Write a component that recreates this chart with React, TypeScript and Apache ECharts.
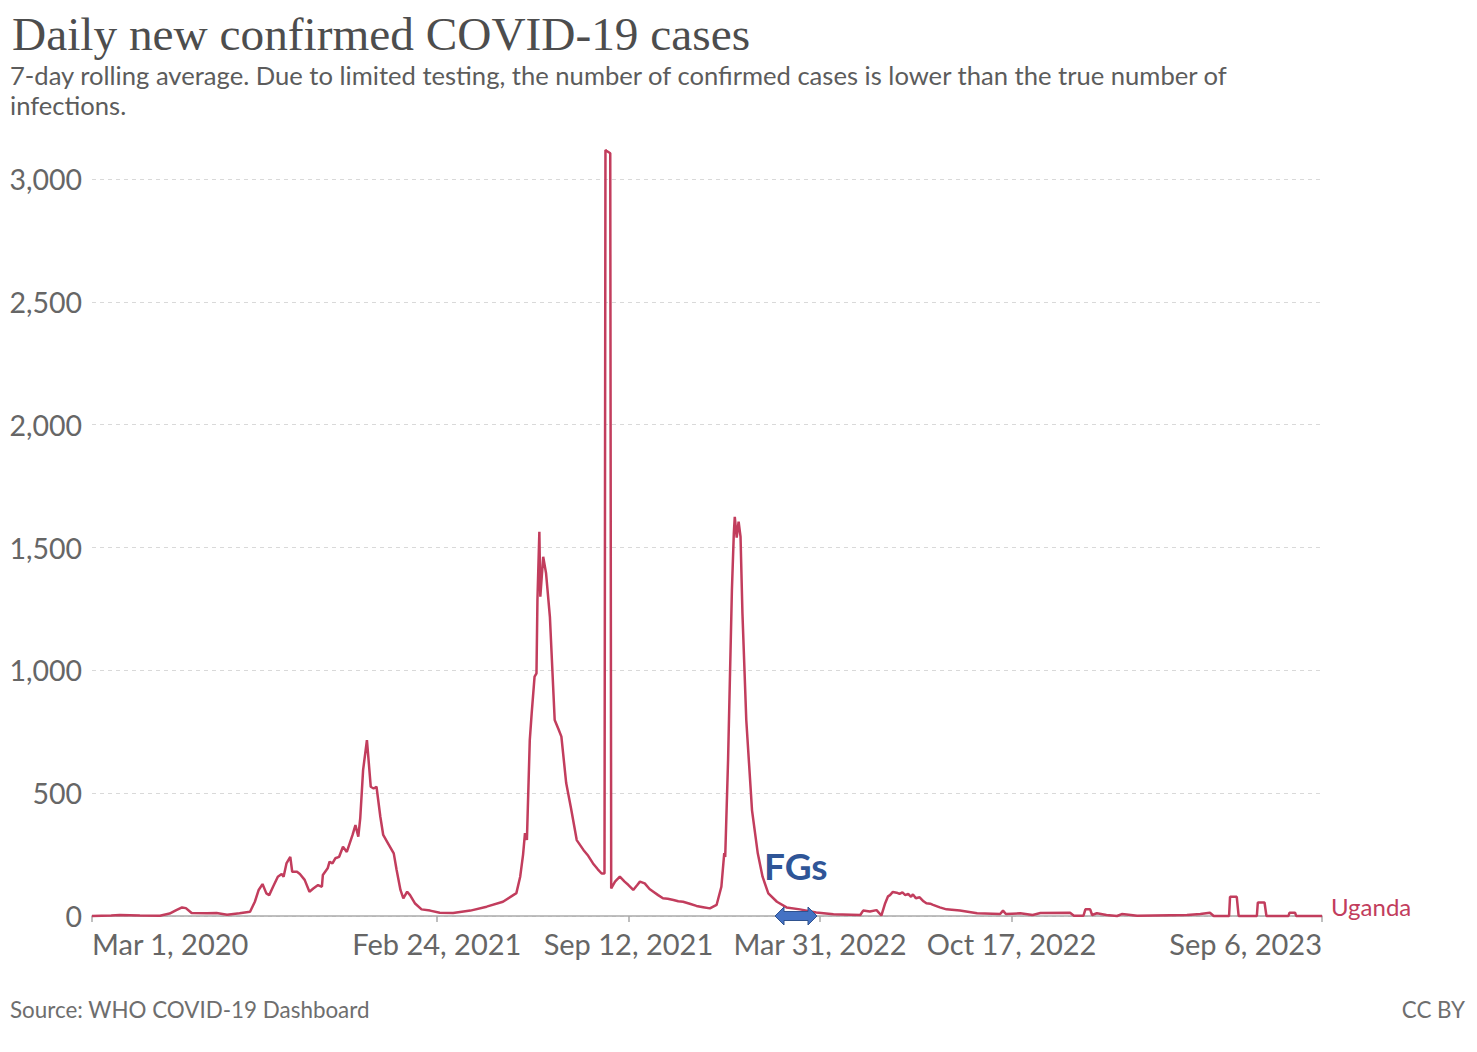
import React, { useEffect, useRef } from "react";
import * as echarts from "echarts";

// Days since Mar 1, 2020 and 7-day rolling average of confirmed cases (Uganda)
const days = [
  0, 20, 29, 50, 71, 81, 88, 94, 98, 104, 120, 130, 141, 154, 165, 170, 174, 178, 182, 185,
  189, 194, 198, 200, 203, 207, 209, 214, 217, 222, 227, 231, 236, 240, 241, 246, 248, 251, 254, 258,
  262, 266, 269, 272, 275, 278, 280, 283, 287, 291, 294, 297, 301, 304, 309, 315, 318, 322, 325, 329,
  332, 337, 344, 353, 363, 377, 395, 412, 429, 443, 447, 450, 452, 454, 457, 459, 462, 464, 465, 467,
  468, 471, 474, 478, 483, 487, 490, 495, 500, 506, 513, 518, 523, 528, 532, 535, 536, 537, 541, 542,
  546, 551, 556, 560, 565, 569, 572, 577, 582, 586, 591, 596, 601, 607, 612, 617, 624, 631, 638, 645,
  652, 657, 660, 661, 664, 668, 670, 671, 673, 675, 677, 679, 683, 689, 695, 700, 706, 715, 725, 739,
  756, 774, 802, 805, 812, 819, 824, 828, 831, 833, 836, 840, 843, 846, 849, 852, 855, 857, 860, 864,
  868, 871, 875, 878, 885, 892, 906, 924, 948, 951, 954, 969, 982, 990, 1021, 1025, 1035, 1037, 1042, 1044,
  1049, 1059, 1070, 1075, 1080, 1091, 1143, 1157, 1167, 1171, 1187, 1188, 1195, 1197, 1216, 1217, 1224, 1226, 1249, 1250,
  1256, 1257, 1284,
];
const cases = [
  0, 2, 4, 2, 1, 10, 24, 35, 32, 12, 11, 12, 5, 11, 17, 58, 106, 130, 92, 85,
  119, 160, 171, 160, 214, 241, 180, 180, 171, 147, 99, 112, 126, 119, 167, 194, 221, 214, 235, 241,
  282, 261, 296, 330, 370, 323, 397, 594, 716, 526, 519, 526, 404, 330, 296, 255, 187, 106, 72, 99,
  85, 52, 27, 22, 13, 12, 22, 38, 58, 93, 160, 250, 337, 310, 716, 826, 974, 988, 1286, 1564,
  1300, 1462, 1395, 1218, 798, 760, 730, 541, 440, 309, 269, 245, 214, 190, 173, 173, 3118, 3115, 3105, 112,
  140, 160, 140, 126, 106, 125, 140, 133, 110, 99, 85, 72, 70, 65, 60, 58, 50, 41, 36, 31,
  45, 119, 256, 240, 635, 1327, 1558, 1625, 1540, 1605, 1544, 1232, 798, 430, 255, 160, 92, 58, 35, 27,
  14, 7, 4, 22, 18, 24, 2, 52, 80, 85, 98, 95, 90, 96, 85, 90, 78, 88, 72, 76,
  60, 52, 50, 45, 35, 27, 22, 11, 8, 22, 8, 11, 4, 12, 13, 1, 1, 27, 27, 4,
  11, 4, 0, 8, 6, 1, 4, 8, 13, 0, 0, 78, 78, 0, 0, 55, 55, 0, 0, 13,
  13, 0, 0,
];

const xTickDays = [0, 360, 560, 760, 960, 1284];
const xTickLabels = ["Mar 1, 2020", "Feb 24, 2021", "Sep 12, 2021", "Mar 31, 2022", "Oct 17, 2022", "Sep 6, 2023"];
const yTickValues = [0, 500, 1000, 1500, 2000, 2500, 3000];

const LINE_COLOR = "#c23d5d";

export default function App() {
  const ref = useRef<HTMLDivElement>(null);

  useEffect(() => {
    if (!ref.current) return;
    const chart = echarts.init(ref.current, undefined, { renderer: "svg" });
    const seriesData = days.map((d, i) => [d, cases[i]]);

    const arrowPts = [
      [775, 916], [784, 907], [784, 911.5], [808, 911.5], [808, 907],
      [817, 916], [808, 925], [808, 920.5], [784, 920.5], [784, 925],
    ];

    chart.setOption({
      animation: false,
      backgroundColor: "#ffffff",
      grid: { left: 92, top: 179, width: 1230, height: 737, containLabel: false },
      xAxis: {
        type: "value",
        min: 0,
        max: 1284,
        axisLine: { show: true, lineStyle: { color: "#aaaaaa", width: 1.5 } },
        axisTick: { show: true, customValues: xTickDays, length: 6, lineStyle: { color: "#aaaaaa", width: 1.5 } },
        axisLabel: {
          customValues: xTickDays,
          formatter: (v: number) => {
            const i = xTickDays.indexOf(v);
            return i >= 0 ? xTickLabels[i] : "";
          },
          alignMinLabel: "left",
          alignMaxLabel: "right",
          margin: 13,
          color: "#666666",
          fontFamily: "Lato",
          fontSize: 29,
        },
        splitLine: { show: false },
      },
      yAxis: {
        type: "value",
        min: 0,
        max: 3000,
        interval: 500,
        axisLine: { show: false },
        axisTick: { show: false },
        axisLabel: {
          customValues: yTickValues,
          formatter: (v: number) => v.toLocaleString("en-US"),
          margin: 10,
          color: "#666666",
          fontFamily: "Lato",
          fontSize: 28.5,
        },
        splitLine: { show: true, lineStyle: { color: "#d9d9d9", type: [4, 4], width: 1.2 } },
      },
      series: [
        {
          type: "line",
          data: seriesData,
          showSymbol: false,
          clip: false,
          lineStyle: { color: LINE_COLOR, width: 2.5 },
          itemStyle: { color: LINE_COLOR },
          z: 5,
          endLabel: {
            show: true,
            formatter: () => "Uganda",
            color: LINE_COLOR,
            fontFamily: "Lato",
            fontSize: 24,
            distance: 9,
            offset: [0, -10],
          },
        },
      ],
      graphic: [
        {
          type: "text",
          left: 12,
          top: 10,
          style: {
            text: "Daily new confirmed COVID-19 cases",
            fontFamily: "Liberation Serif",
            fontSize: 47.3,
            fill: "#4d4d4d",
          },
        },
        {
          type: "text",
          left: 10,
          top: 60,
          style: {
            text: "7-day rolling average. Due to limited testing, the number of confirmed cases is lower than the true number of\ninfections.",
            fontFamily: "Lato",
            fontSize: 25.6,
            lineHeight: 30,
            fill: "#5c5c5c",
          },
        },
        {
          type: "text",
          left: 10,
          top: 998,
          style: {
            text: "Source: WHO COVID-19 Dashboard",
            fontFamily: "Lato",
            fontSize: 22.4,
            fill: "#6e6e6e",
          },
        },
        {
          type: "text",
          right: 12,
          top: 998,
          style: {
            text: "CC BY",
            fontFamily: "Lato",
            fontSize: 22.4,
            fill: "#6e6e6e",
          },
        },
        {
          type: "text",
          left: 764,
          top: 847,
          z: 20,
          style: {
            text: "FGs",
            fontFamily: "Lato",
            fontWeight: "bold",
            fontSize: 37,
            fill: "#2f5597",
          },
        },
        {
          type: "polygon",
          z: 20,
          shape: { points: arrowPts },
          style: { fill: "#4472c4", stroke: "#2f528f", lineWidth: 1 },
        },
      ],
    });

    return () => chart.dispose();
  }, []);

  return (
    <div
      ref={ref}
      style={{ position: "fixed", left: 0, top: 0, width: 1477, height: 1052, background: "#fff" }}
    />
  );
}
